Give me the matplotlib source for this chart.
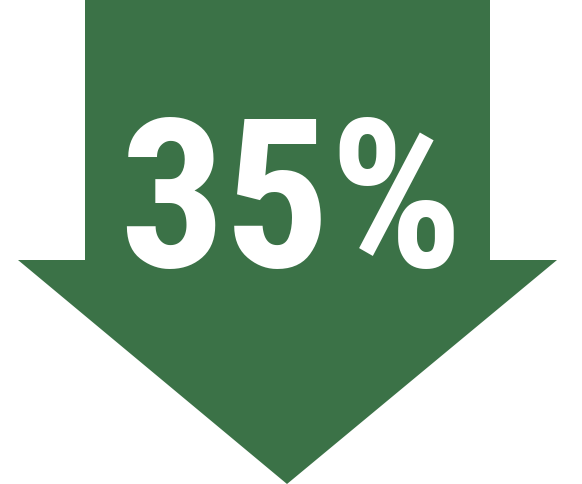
import matplotlib
matplotlib.use("Agg")
import matplotlib.pyplot as plt
from matplotlib.patches import Polygon

label = "35%"
arrow_color = "#3B7247"

# arrow geometry (pixel units of a 582x485 canvas)
shaft_left, shaft_right, shaft_top = 85, 490, 1
head_left, head_right, head_y = 18, 557, 261
tip_x, tip_y = 287, 485

fig = plt.figure(figsize=(5.82, 4.85), dpi=100)
ax = fig.add_axes([0, 0, 1, 1])
ax.set_xlim(0, 582)
ax.set_ylim(485, 0)
ax.axis("off")

verts = [(shaft_left, shaft_top), (shaft_right, shaft_top), (shaft_right, head_y),
         (head_right, head_y), (tip_x, tip_y), (head_left, head_y), (shaft_left, head_y)]
ax.add_patch(Polygon(verts, closed=True, facecolor=arrow_color, edgecolor="none"))

ax.text(291, 267, label, ha="center", va="baseline", color="white",
        fontsize=150, fontweight="bold", family=["Roboto Condensed", "Liberation Sans"])

fig.savefig("out.png", dpi=100)
